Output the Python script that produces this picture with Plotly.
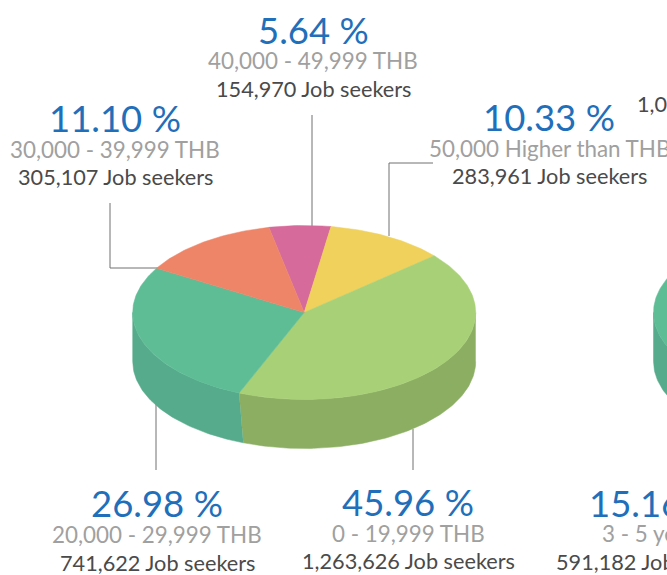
import math
import plotly.graph_objects as go

# ---- data ----
slice_names = ["40,000 - 49,999 THB", "50,000 Higher than THB", "0 - 19,999 THB",
               "20,000 - 29,999 THB", "30,000 - 39,999 THB"]
pct_labels = ["5.64 %", "10.33 %", "45.96 %", "26.98 %", "11.10 %"]
count_labels = ["154,970 Job seekers", "283,961 Job seekers", "1,263,626 Job seekers",
                "741,622 Job seekers", "305,107 Job seekers"]
# share of the disc each slice visibly occupies in the drawing (%)
drawn_share = [5.8, 11.2, 42.5, 27.3, 13.2]
top_colors = ["#D66B9B", "#EFD15B", "#A8D077", "#5FBD96", "#EE8468"]
side_colors = ["#C0608B", "#D7BC52", "#8BAE63", "#55AB8B", "#D67760"]

second_pct = "15.16 %"
second_range = "3 - 5 years"
second_count = "591,182 Job seekers"
second_cut = "1,0"

# ---- layout constants ----
CX, CY, RX, RY, DEPTH = 304.2, 312.5, 171.5, 87.0, 49.0
START = -11.9        # clockwise from 12 o'clock
WALL_SKEW = 1.5
CX2 = 825.0
BLUE, GREY, DARK = "#1F6FBA", "#A0A0A0", "#4A4A4A"
FONT = "Lato"


def pt(cx, a, dy=0.0):
    r = math.radians(a)
    return cx + RX * math.sin(r), CY - RY * math.cos(r) + dy


def arc(cx, a0, a1, dy=0.0):
    n = max(2, int(abs(a1 - a0)) + 1)
    pts = [pt(cx, a0 + (a1 - a0) * i / n, dy) for i in range(n + 1)]
    return [p[0] for p in pts], [p[1] for p in pts]


def poly(x, y, color, name):
    return go.Scatter(x=x, y=y, mode="lines", fill="toself", fillcolor=color,
                      line=dict(color=color, width=0.5), hoverinfo="skip", name=name,
                      showlegend=False)


def side(cx, a0, a1, b0, b1, color, name):
    xt, yt = arc(cx, a0, a1)
    xb, yb = arc(cx, b1, b0, DEPTH)
    return poly(xt + xb, yt + yb, color, name)


def top(cx, a0, a1, color, name):
    x, y = arc(cx, a0, a1)
    return poly([cx] + x + [cx], [CY] + y + [CY], color, name)


fig = go.Figure()
edges = [START]
for s in drawn_share:
    edges.append(edges[-1] + s * 3.6)

# front wall: only the part of the rim between 90 and 270 degrees shows
for i, name in enumerate(slice_names):
    a0, a1 = max(edges[i], 90), min(edges[i + 1], 270)
    if a1 > a0:
        b0 = a0 - WALL_SKEW if a0 > 90 else a0
        b1 = a1 - WALL_SKEW if a1 < 270 else a1
        fig.add_trace(side(CX, a0, a1, b0, b1, side_colors[i], name))
for i, name in enumerate(slice_names):
    fig.add_trace(top(CX, edges[i], edges[i + 1], top_colors[i], name))

# neighbouring pie, cut by the right edge of the picture
fig.add_trace(side(CX2, 190, 270, 190, 270, side_colors[3], second_range))
fig.add_trace(top(CX2, 190, 350, top_colors[3], second_range))

LEADERS = [
    [(312, 115), (312, 226)],
    [(433, 163), (389, 163), (389, 236)],
    [(110, 203), (110, 268), (160, 268)],
    [(156, 402), (156, 470)],
    [(413, 429), (413, 470)],
]
shapes = []
for seg in LEADERS:
    for (x0, y0), (x1, y1) in zip(seg, seg[1:]):
        shapes.append(dict(type="line", x0=x0, y0=y0, x1=x1, y1=y1, xref="x", yref="y",
                           layer="below", line=dict(color="#707070", width=1)))

LABEL_POS = [
    (313, 30, 60, 89),
    (549, 117, 148, 176),
    (408, 502, 533, 561),
    (157, 503, 534, 563),
    (115, 118, 149, 177),
]
ann = []


def text(x, y, s, size, color, anchor="center"):
    ann.append(dict(x=x, y=y, xref="x", yref="y", text=s, showarrow=False, xanchor=anchor,
                    yanchor="middle", font=dict(family=FONT, size=size, color=color)))


for i, (x, y0, y1, y2) in enumerate(LABEL_POS):
    text(x, y0, pct_labels[i], 36.5, BLUE)
    text(x, y1, slice_names[i], 22.4, GREY)
    text(x, y2, count_labels[i], 21.7, DARK)
text(587, 503, second_pct, 36.5, BLUE, "left")
text(600, 533, second_range, 22.4, GREY, "left")
text(554, 562, second_count, 21.7, DARK, "left")
text(635, 104, second_cut, 21.7, DARK, "left")

fig.update_layout(
    width=667, height=575, margin=dict(l=0, r=0, t=0, b=0),
    paper_bgcolor="white", plot_bgcolor="white", showlegend=False,
    xaxis=dict(range=[0, 667], visible=False, fixedrange=True),
    yaxis=dict(range=[575, 0], visible=False, fixedrange=True),
    shapes=shapes, annotations=ann,
)
fig.write_html("out.html", config=dict(displayModeBar=False),
               post_script="document.body.style.margin='0';document.body.style.overflow='hidden';")
